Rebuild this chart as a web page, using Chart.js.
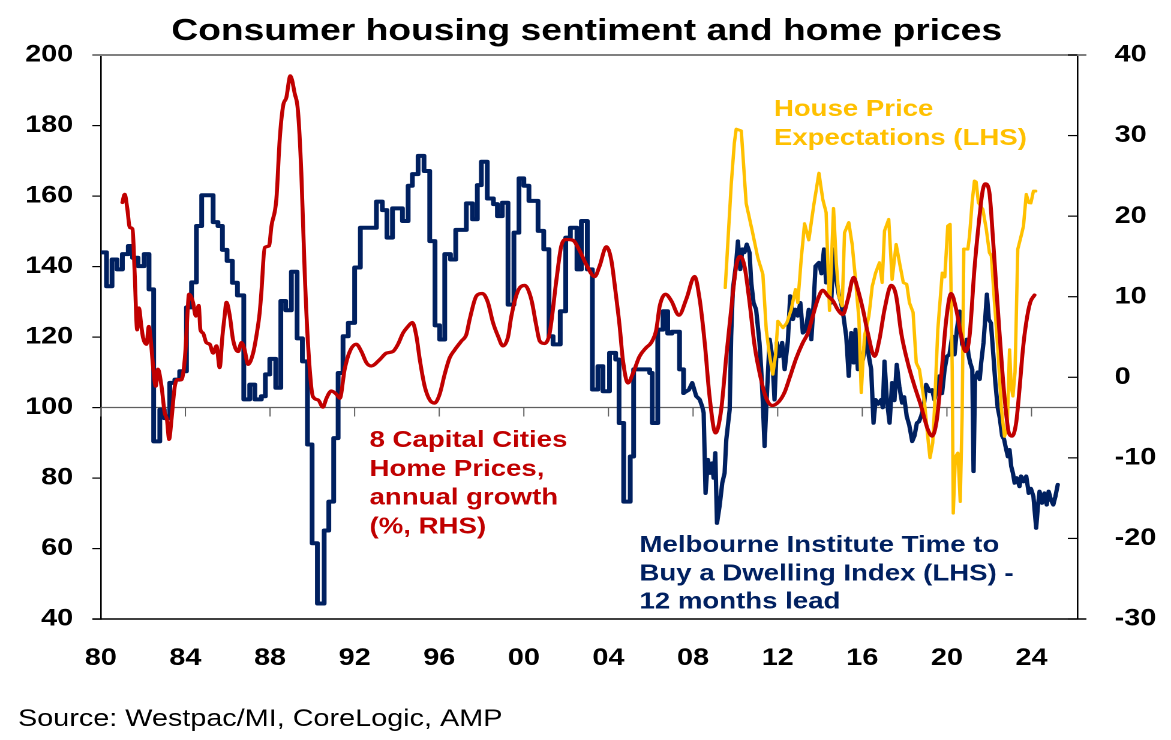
<!DOCTYPE html>
<html>
<head>
<meta charset="utf-8">
<title>Consumer housing sentiment and home prices</title>
<script src="https://cdn.jsdelivr.net/npm/chart.js@4.4.1/dist/chart.umd.min.js"></script>
<style>
  html, body { margin: 0; padding: 0; background: #fff; }
</style>
</head>
<body>
<!-- drawn at 976 wide and stretched to 1171, like the wide text of the original -->
<canvas id="chart" width="976" height="740" style="display:block;width:1171px;height:740px"></canvas>
<script>
// x axis (years) and tick labels
const xMin = 1980;
const xMax = 2026.17;
const xTickYears = [1980, 1984, 1988, 1992, 1996, 2000, 2004, 2008, 2012, 2016, 2020, 2024];
// survey went from quarterly to monthly readings here
const blueMonthlyFrom = 2007.5;

// Melbourne Institute Time to Buy a Dwelling (LHS), 12 months lead
const blueYears = [
  1980.0, 1980.27, 1980.53, 1980.77, 1981.02, 1981.3, 1981.5, 1981.76, 1982.05, 1982.28,
  1982.5, 1982.79, 1983.0, 1983.26, 1983.5, 1983.73, 1984.05, 1984.29, 1984.52, 1984.77,
  1985.31, 1985.54, 1985.75, 1985.97, 1986.22, 1986.46, 1986.76, 1987.04, 1987.28, 1987.59,
  1987.78, 1987.99, 1988.27, 1988.51, 1988.74, 1989.01, 1989.28, 1989.53, 1989.77, 1989.99,
  1990.24, 1990.56, 1990.78, 1991.01, 1991.22, 1991.45, 1991.7, 1992.0, 1992.27, 1993.03,
  1993.31, 1993.53, 1993.79, 1994.26, 1994.53, 1994.73, 1995.0, 1995.28, 1995.55, 1995.8,
  1996.02, 1996.26, 1996.53, 1996.78, 1997.28, 1997.57, 1997.8, 1997.99, 1998.27, 1998.56,
  1998.75, 1998.98, 1999.25, 1999.53, 1999.77, 2000.0, 2000.24, 2000.67, 2000.94, 2001.19,
  2001.38, 2001.72, 2001.98, 2002.2, 2002.51, 2002.72, 2003.0, 2003.24, 2003.5, 2003.74,
  2004.05, 2004.34, 2004.5, 2004.72, 2005.03, 2005.19, 2005.95, 2006.07, 2006.33, 2006.58,
  2006.8, 2007.0, 2007.36, 2007.55, 2007.8, 2007.96, 2008.15, 2008.31, 2008.43, 2008.5,
  2008.59, 2008.7, 2008.81, 2008.9, 2008.97, 2009.05, 2009.13, 2009.25, 2009.38, 2009.49,
  2009.57, 2009.73, 2009.8, 2009.88, 2010.04, 2010.12, 2010.23, 2010.33, 2010.43, 2010.54,
  2010.67, 2010.75, 2010.86, 2010.98, 2011.06, 2011.14, 2011.22, 2011.3, 2011.38, 2011.46,
  2011.54, 2011.62, 2011.74, 2011.85, 2011.96, 2012.09, 2012.21, 2012.33, 2012.48, 2012.59,
  2012.72, 2012.84, 2012.95, 2013.07, 2013.19, 2013.33, 2013.47, 2013.59, 2013.7, 2013.79,
  2013.95, 2014.07, 2014.19, 2014.29, 2014.41, 2014.53, 2014.64, 2014.77, 2014.89, 2015.0,
  2015.11, 2015.24, 2015.36, 2015.48, 2015.59, 2015.68, 2015.79, 2015.9, 2016.03, 2016.18,
  2016.31, 2016.42, 2016.53, 2016.63, 2016.75, 2016.89, 2016.97, 2017.05, 2017.16, 2017.29,
  2017.41, 2017.52, 2017.63, 2017.75, 2017.88, 2017.98, 2018.1, 2018.22, 2018.36, 2018.47,
  2018.58, 2018.68, 2018.78, 2018.9, 2019.02, 2019.18, 2019.3, 2019.41, 2019.52, 2019.65,
  2019.77, 2019.89, 2020.0, 2020.12, 2020.25, 2020.36, 2020.47, 2020.6, 2020.72, 2020.83,
  2020.94, 2021.02, 2021.1, 2021.2, 2021.26, 2021.33, 2021.45, 2021.55, 2021.62, 2021.73,
  2021.82, 2021.89, 2021.98, 2022.08, 2022.2, 2022.29, 2022.4, 2022.5, 2022.61, 2022.7,
  2022.77, 2022.88, 2022.96, 2023.04, 2023.12, 2023.2, 2023.3, 2023.43, 2023.51, 2023.62,
  2023.75, 2023.87, 2023.97, 2024.09, 2024.22, 2024.3, 2024.38, 2024.5, 2024.61, 2024.72,
  2024.81, 2024.92, 2025.03, 2025.13, 2025.24
];
const blueValues = [
  144, 134.4, 142, 139.2, 143.5, 145.8, 142.5, 140.1, 143.5, 133.5,
  90.4, 99.4, 97, 107, 107.9, 110.3, 128.4, 135.5, 151.5, 160.2,
  152.6, 151.5, 144.7, 141.6, 135.4, 131.8, 102.3, 106.5, 102.3, 103.2,
  109.4, 113.8, 105.6, 130.2, 127.6, 138.5, 119.6, 113.1, 89.5, 61.5,
  44.4, 65.1, 73.3, 91.3, 109.8, 120.2, 124.0, 139.7, 151.0, 158.4,
  156.0, 148.2, 156.5, 152.9, 162.9, 166.2, 171.4, 167.1, 147.2, 123.3,
  119.3, 143.5, 142.0, 150.4, 157.9, 153.4, 163.1, 169.7, 159.3, 157.7,
  154.3, 158.1, 129.2, 149.6, 165.0, 162.9, 158.6, 150.1, 144.9, 120.2,
  117.9, 127.3, 148.2, 151.0, 139.2, 152.9, 139.2, 105.1, 111.7, 104.6,
  115.5, 113.6, 95.6, 73.3, 86.1, 110.8, 109.8, 95.6, 122.1, 127.3,
  121, 121.5, 110.8, 104.1, 105, 107, 103.2, 102.3, 100.3, 98.5,
  75.7, 85.2, 81.4, 84.2, 80, 87.1, 67.2, 71.9, 78.6, 81.4,
  90.9, 99.4, 120.2, 133.5, 141.1, 147.2, 139.2, 144.9, 144, 146.3,
  143.9, 135.4, 129.7, 127.8, 123.1, 118.4, 110.8, 101.3, 89, 100,
  109.8, 119.3, 114.5, 102.2, 118.4, 114.5, 118.4, 110.8, 118.8, 131.6,
  125, 127.8, 126, 129.7, 121.2, 122, 127.8, 119.3, 129.7, 140.1,
  141.1, 138, 144.9, 135.4, 139, 129.7, 144.9, 136.3, 132, 129.7,
  125.9, 120.2, 108.9, 121.2, 112.7, 122.1, 110.8, 115, 113.6, 120.2,
  114.5, 110.8, 95.6, 102.2, 101, 102.2, 100, 113.1, 102.2, 95.6,
  107, 102, 112.2, 106, 101.3, 103, 97.5, 95, 90.4, 92,
  95.6, 96, 97.5, 100, 106.5, 104.6, 105, 102.2, 105, 108.9,
  104, 110.8, 114.5, 115, 120.2, 115, 122.1, 127.3, 118, 116.4,
  119.3, 115, 112.7, 110.8, 81.9, 108, 110, 108, 112.7, 118.4,
  125.9, 132.1, 125, 124, 114.5, 107, 100, 97, 92, 91,
  89, 86.1, 88, 83.3, 81.4, 78.6, 80, 77.6, 80.5, 79,
  80.5, 75.7, 77, 74.8, 65.8, 71.9, 76.2, 72.9, 75.7, 72.4,
  76.2, 73.8, 72.4, 74.8, 78.1
];

// 8 capital cities home prices, annual growth % (RHS)
const redYears = [
  1981.02, 1981.13, 1981.25, 1981.37, 1981.5, 1981.6, 1981.72, 1981.8, 1981.92, 1982.0,
  1982.16, 1982.27, 1982.36, 1982.47, 1982.6, 1982.7, 1982.87, 1983.02, 1983.13, 1983.23,
  1983.34, 1983.5, 1983.65, 1983.81, 1983.92, 1984.02, 1984.1, 1984.17, 1984.36, 1984.49,
  1984.63, 1984.71, 1984.83, 1984.99, 1985.15, 1985.31, 1985.47, 1985.62, 1985.75, 1985.85,
  1985.94, 1986.1, 1986.25, 1986.49, 1986.65, 1986.8, 1986.96, 1987.2, 1987.36, 1987.51,
  1987.59, 1987.75, 1987.95, 1988.07, 1988.3, 1988.46, 1988.62, 1988.77, 1988.96, 1989.17,
  1989.32, 1989.48, 1989.64, 1989.8, 1990.03, 1990.27, 1990.5, 1990.67, 1990.9, 1991.14,
  1991.3, 1991.53, 1991.77, 1992.08, 1992.32, 1992.56, 1992.79, 1993.19, 1993.5, 1993.81,
  1994.05, 1994.29, 1994.52, 1994.73, 1994.92, 1995.08, 1995.31, 1995.55, 1995.78, 1996.02,
  1996.26, 1996.49, 1996.73, 1997.05, 1997.28, 1997.44, 1997.76, 1998.04, 1998.3, 1998.54,
  1998.78, 1999.01, 1999.25, 1999.41, 1999.72, 2000.04, 2000.35, 2000.59, 2000.75, 2000.98,
  2001.22, 2001.54, 2001.77, 2002.0, 2002.32, 2002.64, 2002.95, 2003.35, 2003.58, 2003.9,
  2004.13, 2004.34, 2004.53, 2004.68, 2004.92, 2005.16, 2005.47, 2005.79, 2006.02, 2006.26,
  2006.42, 2006.7, 2006.97, 2007.33, 2007.68, 2008.07, 2008.31, 2008.55, 2008.78, 2009.06,
  2009.33, 2009.57, 2009.8, 2010.04, 2010.23, 2010.43, 2010.67, 2010.91, 2011.14, 2011.43,
  2011.74, 2012.06, 2012.32, 2012.56, 2012.88, 2013.19, 2013.43, 2013.66, 2013.9, 2014.13,
  2014.37, 2014.61, 2014.84, 2015.08, 2015.32, 2015.59, 2015.79, 2016.03, 2016.26, 2016.58,
  2016.81, 2017.05, 2017.37, 2017.6, 2017.84, 2018.15, 2018.47, 2018.78, 2019.1, 2019.3,
  2019.52, 2019.73, 2019.97, 2020.2, 2020.44, 2020.68, 2020.88, 2021.07, 2021.3, 2021.51,
  2021.7, 2021.82, 2022.01, 2022.17, 2022.33, 2022.52, 2022.72, 2022.93, 2023.08, 2023.27,
  2023.43, 2023.59, 2023.75, 2023.94, 2024.14
];
const redValues = [
  21.7, 22.7, 21.0, 18.6, 18.4, 13.0, 5.9, 8.6, 6.3, 4.9,
  4.1, 6.3, 4.7, 1.4, -1.1, 1.0, -1.1, -4.4, -5.3, -7.7,
  -5.3, -1.1, -0.3, -0.3, 1.0, 4.0, 8.0, 10.3, 9.3, 7.6,
  8.9, 5.9, 5.5, 4.3, 4.1, 3.0, 3.9, 1.2, 5.1, 7.5,
  9.3, 7.6, 4.7, 3.2, 4.3, 3.4, 1.6, 3.0, 5.2, 8.0,
  10.5, 16.1, 16.3, 18.8, 22.1, 29.6, 33.7, 34.7, 37.4, 35.2,
  33.1, 25.4, 13.0, 4.0, -2.4, -2.8, -3.7, -2.6, -1.7, -2.1,
  -2.6, 1.0, 3.2, 4.1, 3.2, 1.8, 1.4, 2.2, 3.0, 3.2,
  4.1, 5.5, 6.3, 6.8, 5.1, 2.2, -1.1, -2.8, -3.2, -2.1,
  0.4, 2.4, 3.4, 4.5, 5.3, 7.2, 10.1, 10.4, 9.3, 6.8,
  5.1, 3.9, 5.0, 7.6, 10.7, 11.4, 9.7, 6.4, 4.5, 4.2,
  5.5, 12.1, 16.3, 17.1, 17.0, 15.7, 14.0, 12.5, 13.8, 16.2,
  14.6, 10.5, 6.3, 2.2, -0.7, 0.5, 2.6, 3.7, 4.3, 5.9,
  8.8, 10.3, 9.5, 7.7, 9.7, 12.5, 9.7, 4.3, -2.4, -6.9,
  -4.0, 2.6, 8.4, 13.8, 15.0, 13.8, 9.3, 3.9, 0.6, -2.4,
  -3.5, -3.0, -1.9, -0.1, 2.4, 4.3, 5.5, 7.6, 9.7, 10.8,
  10.1, 9.5, 8.4, 7.8, 9.7, 12.4, 10.9, 8.4, 5.5, 2.6,
  4.7, 8.4, 11.4, 10.1, 5.5, 1.8, -1.1, -3.6, -6.5, -7.3,
  -5.3, 0.1, 7.2, 10.4, 8.4, 5.1, 3.2, 5.1, 13.4, 19.2,
  23.3, 24.0, 22.9, 17.5, 11.3, 4.3, -2.4, -6.9, -7.3, -5.7,
  -1.5, 3.4, 6.8, 9.3, 10.2
];

// House price expectations (LHS)
const goldYears = [
  2009.52, 2009.8, 2009.95, 2010.04, 2010.28, 2010.51, 2010.8, 2011.06, 2011.3, 2011.46,
  2011.62, 2011.77, 2011.9, 2012.01, 2012.25, 2012.43, 2012.64, 2012.84, 2012.95, 2013.11,
  2013.27, 2013.47, 2013.7, 2013.95, 2014.13, 2014.29, 2014.45, 2014.64, 2014.77, 2014.89,
  2015.05, 2015.16, 2015.36, 2015.52, 2015.68, 2015.84, 2015.95, 2016.1, 2016.31, 2016.47,
  2016.63, 2016.81, 2016.94, 2017.05, 2017.25, 2017.41, 2017.6, 2017.79, 2017.94, 2018.1,
  2018.23, 2018.4, 2018.55, 2018.7, 2018.94, 2019.14, 2019.2, 2019.33, 2019.41, 2019.57,
  2019.78, 2019.9, 2020.04, 2020.15, 2020.25, 2020.3, 2020.4, 2020.52, 2020.63, 2020.72,
  2020.8, 2020.99, 2021.07, 2021.19, 2021.3, 2021.38, 2021.49, 2021.7, 2021.86, 2022.01,
  2022.1, 2022.25, 2022.41, 2022.57, 2022.72, 2022.85, 2022.96, 2023.04, 2023.12, 2023.22,
  2023.35, 2023.51, 2023.62, 2023.75, 2023.87, 2023.97, 2024.09, 2024.2
];
const goldValues = [
  134.0, 163, 175, 179.0, 178.5, 157.9, 150, 142.5, 137.8, 122,
  114.5, 109.4, 115, 124.5, 122.6, 124.0, 127.8, 133.5, 129.7, 142.0,
  152.2, 147.5, 157.2, 166.5, 159.1, 155.3, 127.5, 156.5, 141.1, 131.6,
  128.8, 149.6, 152.5, 146.3, 136.3, 125.0, 104.2, 120.2, 125.9, 134.4,
  138.2, 141.1, 135.4, 150.1, 153.4, 136.3, 146.3, 140.1, 135.4, 135,
  129.7, 127, 112.7, 110.8, 101.3, 89.0, 85.7, 90.0, 99.4, 122.1,
  138.2, 137, 151.5, 152.0, 110.8, 70.0, 86, 87.1, 73.3, 98,
  145, 144.9, 148.7, 158.1, 164.3, 164, 158.1, 156.2, 150.6, 143.9,
  143, 129.7, 116.4, 100, 91.8, 94, 116.4, 106, 103.2, 110,
  144.9, 148.7, 151.5, 160.5, 158.1, 158, 161.4, 161.4
];

const NAVY = '#002060';
const RED = '#C00000';
const GOLD = '#FFC000';
const FONT = '"Liberation Sans", Arial, Helvetica, sans-serif';

function toPoints(xs, ys) {
  return xs.map((x, i) => ({ x: x, y: ys[i] }));
}

// quarterly readings are drawn as steps, monthly ones as a plain line
const blueSplit = blueYears.findIndex(y => y >= blueMonthlyFrom);
const bluePoints = toPoints(blueYears, blueValues);
const blueQuarterly = bluePoints.slice(0, blueSplit + 1);
const blueMonthly = bluePoints.slice(blueSplit);

function drawLines(ctx, lines, x, y, step, color, size, weight, align) {
  ctx.font = weight + ' ' + size + 'px ' + FONT;
  ctx.fillStyle = color;
  ctx.textAlign = align || 'left';
  ctx.textBaseline = 'alphabetic';
  lines.forEach((t, i) => ctx.fillText(t, x, y + i * step));
}

// frame lines, the 100 line with its year ticks, inward RHS ticks, and the texts
const framePlugin = {
  id: 'frame',
  beforeDatasetsDraw(chart) {
    const { ctx, chartArea: a, scales } = chart;
    const y100 = scales.y.getPixelForValue(100);
    ctx.save();
    ctx.strokeStyle = '#5f5f5f';
    ctx.lineWidth = 1.2;
    ctx.beginPath();
    ctx.moveTo(a.left, y100);
    ctx.lineTo(a.right, y100);
    ctx.stroke();
    ctx.lineWidth = 1;
    xTickYears.forEach(v => {
      const px = scales.x.getPixelForValue(v);
      ctx.beginPath();
      ctx.moveTo(px, y100);
      ctx.lineTo(px, y100 + 9);
      ctx.stroke();
    });
    ctx.restore();
  },
  afterDraw(chart) {
    const { ctx, chartArea: a, scales } = chart;
    ctx.save();
    // top border (grey) and bottom border (black)
    ctx.strokeStyle = '#808080';
    ctx.lineWidth = 2;
    ctx.beginPath();
    ctx.moveTo(a.left - 7, a.top);
    ctx.lineTo(a.right + 7.5, a.top);
    ctx.stroke();
    ctx.strokeStyle = '#000';
    ctx.lineWidth = 1.5;
    ctx.beginPath();
    ctx.moveTo(a.left - 7, a.bottom);
    ctx.lineTo(a.right + 7.5, a.bottom);
    ctx.stroke();
    // RHS ticks point into the plot
    ctx.lineWidth = 1.2;
    scales.y2.ticks.forEach(t => {
      const py = scales.y2.getPixelForValue(t.value);
      ctx.beginPath();
      ctx.moveTo(a.right - 8, py);
      ctx.lineTo(a.right, py);
      ctx.stroke();
    });

    drawLines(ctx, ['Consumer housing sentiment and home prices'], 489, 40, 0, '#000', 31, 'bold', 'center');
    drawLines(ctx, ['House Price', 'Expectations (LHS)'], 645, 116, 29, GOLD, 23, 'bold');
    drawLines(ctx, ['8 Capital Cities', 'Home Prices,', 'annual growth', '(%, RHS)'], 308, 447, 28.8, RED, 23, 'bold');
    drawLines(ctx, ['Melbourne Institute Time to', 'Buy a Dwelling Index (LHS) -', '12 months lead'], 533, 552, 28.3, NAVY, 23, 'bold');
    drawLines(ctx, ['Source: Westpac/MI, CoreLogic, AMP'], 15, 726, 0, '#000', 24, 'normal');
    ctx.restore();
  }
};

const tickFont = { family: FONT, size: 24, weight: 'bold' };

new Chart(document.getElementById('chart'), {
  type: 'line',
  data: {
    datasets: [
      {
        label: '8 Capital Cities Home Prices, annual growth (%, RHS)',
        data: toPoints(redYears, redValues),
        yAxisID: 'y2',
        borderColor: RED,
        borderWidth: 3.3,
        cubicInterpolationMode: 'monotone',
        pointRadius: 0,
        order: 0
      },
      {
        label: 'House Price Expectations (LHS)',
        data: toPoints(goldYears, goldValues),
        yAxisID: 'y',
        borderColor: GOLD,
        borderWidth: 2.8,
        tension: 0,
        pointRadius: 0,
        order: 1
      },
      {
        label: 'Melbourne Institute Time to Buy a Dwelling Index (LHS) - 12 months lead',
        data: blueQuarterly,
        yAxisID: 'y',
        borderColor: NAVY,
        borderWidth: 4,
        stepped: true,
        pointRadius: 0,
        order: 2
      },
      {
        label: 'Melbourne Institute Time to Buy a Dwelling Index (LHS) - 12 months lead',
        data: blueMonthly,
        yAxisID: 'y',
        borderColor: NAVY,
        borderWidth: 3.6,
        tension: 0,
        pointRadius: 0,
        order: 2
      }
    ]
  },
  options: {
    responsive: false,
    devicePixelRatio: 2,
    animation: false,
    events: [],
    layout: { padding: { top: 55, left: 0, right: 0, bottom: 0 } },
    elements: { line: { borderJoinStyle: 'round', borderCapStyle: 'round', fill: false } },
    plugins: {
      legend: { display: false },
      title: { display: false },
      tooltip: { enabled: false }
    },
    scales: {
      x: {
        type: 'linear',
        position: 'bottom',
        min: xMin,
        max: xMax,
        afterBuildTicks: s => { s.ticks = xTickYears.map(v => ({ value: v })); },
        afterFit: s => { s.height = 121; },
        grid: { display: false },
        border: { display: false },
        ticks: {
          autoSkip: false,
          maxRotation: 0,
          padding: 17,
          color: '#000',
          font: tickFont,
          callback: v => String(Math.round(v) % 100).padStart(2, '0')
        }
      },
      y: {
        position: 'left',
        min: 40,
        max: 200,
        afterFit: s => { s.width = 84; },
        grid: { drawOnChartArea: false, tickLength: 7, color: '#000', lineWidth: 1.2 },
        border: { color: '#000', width: 1.3 },
        ticks: { stepSize: 20, padding: 16, color: '#000', font: tickFont }
      },
      y2: {
        position: 'right',
        min: -30,
        max: 40,
        afterFit: s => { s.width = 78; },
        grid: { display: false },
        border: { color: '#000', width: 1.3 },
        ticks: { stepSize: 10, padding: 23, color: '#000', font: tickFont }
      }
    }
  },
  plugins: [framePlugin]
});
</script>
</body>
</html>
